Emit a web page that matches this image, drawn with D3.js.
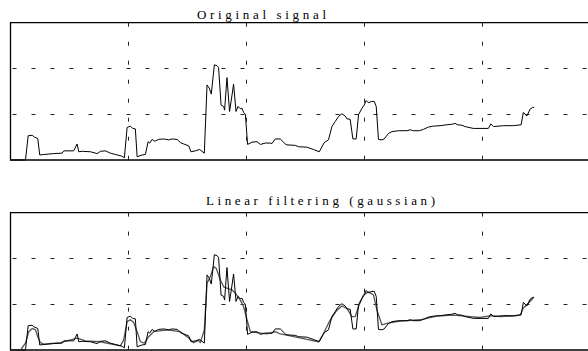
<!DOCTYPE html>
<html>
<head>
<meta charset="utf-8">
<script src="https://cdn.jsdelivr.net/npm/d3@7"></script>
<style>
  html, body { margin: 0; padding: 0; background: #fff; }
  svg { display: block; }
  .ttl { font-family: "Liberation Serif", "DejaVu Serif", serif; font-size: 13px; }
</style>
</head>
<body>
<svg id="chart" width="588" height="351"></svg>
<script>
// ---- data ----
const rawX = [0,12.7,15,18.4,20.3,23.1,24.8,28.2,36.7,43.8,45.2,53.6,56.5,57.9,60.8,67.8,73.5,76.3,80.5,84.7,89,93.8,96.6,98.9,101.7,103.6,105.9,107.4,111.6,114.4,116.7,118.1,120.1,122.3,125.7,129.9,134.2,137,141.3,144.1,146.9,151.1,153.1,156.8,160.4,164.4,166.7,168.6,170.3,172.9,175.2,176.5,178.6,180.8,181.6,183.6,185.8,187.9,189.2,191.3,193,194.9,196.4,197.7,199.2,201.1,204.8,209.1,211.9,216.1,220.3,221.8,224.6,228.8,233.1,234.5,241.5,244.3,251.4,257,261.9,266.1,269.7,272.6,275.4,278.2,281.1,283.9,285.3,288.1,290.4,293.2,295.2,298.1,300,301.7,303.6,306.5,308.5,310.2,312.1,315,316.9,320.6,323.5,329.1,336.2,339,341.8,346.9,350.3,354.5,358.7,364.4,370.1,374.3,377.1,379.1,382.8,385.6,392.6,405.3,407.4,409.6,418,426.5,433.1,435,437.9,440.7,443,444.1];
const rawY = [0,0,0.53,0.54,0.50,0.47,0.11,0.12,0.14,0.15,0.20,0.20,0.35,0.18,0.19,0.18,0.14,0.19,0.20,0.15,0.12,0.09,0.05,0.71,0.74,0.69,0.68,0.07,0.11,0.12,0.40,0.37,0.45,0.41,0.45,0.46,0.44,0.46,0.45,0.38,0.35,0.31,0.18,0.20,0.23,0.15,1.64,1.57,1.44,2.08,2.06,2.02,1.20,1.17,1.09,1.80,1.06,1.42,1.66,1.06,1.17,1.12,1.13,1.04,1.00,0.34,0.39,0.40,0.34,0.37,0.37,0.36,0.46,0.46,0.35,0.33,0.32,0.29,0.28,0.23,0.18,0.38,0.44,0.73,0.84,0.95,1.01,0.96,0.90,0.89,0.46,0.46,0.99,1.13,1.20,1.30,1.25,1.28,1.28,1.17,0.45,0.44,0.46,0.58,0.62,0.64,0.64,0.66,0.64,0.64,0.67,0.72,0.74,0.75,0.77,0.78,0.80,0.77,0.76,0.73,0.69,0.69,0.79,0.73,0.75,0.75,0.77,1.04,0.96,1.11,1.15,1.15];

const smoothX = [0,8.5,12.7,15.5,18.4,21.2,23.1,25.4,28.2,42.4,56.5,63.6,76.3,93.2,96,98.9,101.7,104.5,107.4,110.2,113.6,117.2,121.4,132.8,144.1,151.1,155.3,159.6,161,164.4,166.7,169.5,172.3,174.6,178,180.8,183.6,187.9,190.7,194.9,197.7,200.6,203.4,209.1,217.5,224.6,228.8,237.3,251.4,261.3,265.5,271.2,276.9,281.1,285.3,289.6,292.4,295.2,299.4,303.6,307.9,310.8,315,319.2,330.5,347.5,361.6,375.7,389.8,398.3,408.2,415.3,426.5,432.2,434.9,439.2,443.5];
const smoothY = [0,0,0.15,0.40,0.47,0.44,0.29,0.16,0.13,0.16,0.26,0.20,0.18,0.09,0.22,0.62,0.66,0.60,0.40,0.18,0.15,0.29,0.40,0.44,0.40,0.26,0.16,0.21,0.16,0.44,1.46,1.60,1.82,1.78,1.53,1.38,1.35,1.31,1.24,1.09,0.95,0.66,0.40,0.38,0.35,0.40,0.35,0.31,0.23,0.18,0.36,0.66,0.87,0.96,0.91,0.73,0.73,0.95,1.20,1.27,1.20,0.87,0.55,0.58,0.63,0.66,0.74,0.76,0.73,0.71,0.75,0.73,0.74,0.76,0.91,1.02,1.14];

const xTicks = [100, 200, 300, 400];
const yTicks = [1, 2];
const titles = ["Original signal", "Linear filtering (gaussian)"];

// ---- layout ----
const svg = d3.select("#chart");
const x = d3.scaleLinear().domain([0, 500]).range([10.5, 600]);

const panels = [
  { y: d3.scaleLinear().domain([0, 3]).range([160, 22.7]), title: titles[0], tx: 197, ty: 18.5, tw: 129, series: ["raw"] },
  { y: d3.scaleLinear().domain([0, 3]).range([350, 212.6]), title: titles[1], tx: 206, ty: 205, tw: 229, series: ["smooth", "raw"] }
];

const raw = rawX.map((v, i) => [v, rawY[i]]);
const smooth = smoothX.map((v, i) => [v, smoothY[i]]);

panels.forEach(p => {
  const g = svg.append("g");
  const top = p.y(3), bottom = p.y(0);

  g.selectAll(".hg").data(yTicks).join("line")
    .attr("x1", x(0)).attr("x2", 600)
    .attr("y1", d => Math.round(p.y(d)) + 0.5).attr("y2", d => Math.round(p.y(d)) + 0.5)
    .attr("stroke", "#222").attr("stroke-width", 1)
    .attr("stroke-dasharray", "4,15").attr("stroke-dashoffset", -2);

  g.selectAll(".vg").data(xTicks).join("line")
    .attr("x1", d => Math.round(x(d)) + 0.5).attr("x2", d => Math.round(x(d)) + 0.5)
    .attr("y1", top).attr("y2", bottom)
    .attr("stroke", "#222").attr("stroke-width", 1)
    .attr("stroke-dasharray", "4,15");

  g.append("path")
    .attr("d", `M600,${top} H${x(0)} V${bottom} H600`)
    .attr("fill", "none").attr("stroke", "#000").attr("stroke-width", 1.3);

  const line = d3.line().x(d => x(d[0])).y(d => p.y(d[1]));
  p.series.forEach(s => {
    g.append("path")
      .datum(s === "raw" ? raw : smooth)
      .attr("d", line)
      .attr("fill", "none")
      .attr("stroke", s === "raw" ? "#000" : "#555")
      .attr("stroke-width", s === "raw" ? 1 : 1.3)
      .attr("stroke-linejoin", "round");
  });

  g.append("text")
    .attr("class", "ttl")
    .attr("x", p.tx).attr("y", p.ty)
    .attr("textLength", p.tw).attr("lengthAdjust", "spacing")
    .attr("fill", "#000")
    .text(p.title);
});
</script>
</body>
</html>
